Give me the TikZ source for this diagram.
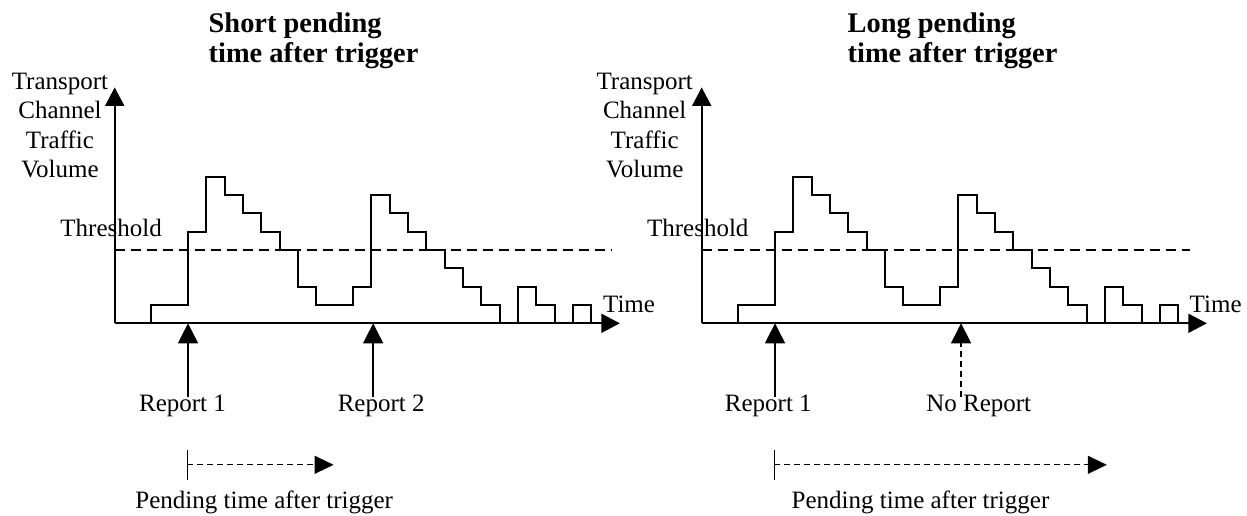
\documentclass[tikz,border=0pt]{standalone}
\usepackage{fontspec}
\setmainfont{Liberation Serif}
\usetikzlibrary{arrows.meta}
\newcommand\trafficcurve{(0,0) -| (2,1) -| (4,5) -| (5,8) -| (6,7) -| (7,6) -| (8,5) -| (9,4) -| (10,2) -| (11,1) -| (13,2) -| (14,7) -| (15,6) -| (16,5) -| (17,4) -| (18,3) -| (19,2) -| (20,1) -| (21,0) -| (22,2) -| (23,1) -| (24,0) -| (25,1) -| (26,0)}
\begin{document}
\begin{tikzpicture}[x=0.5pt,y=-0.5pt,
  lbl/.style={font=\fontsize{12.5}{14.65}\selectfont, inner sep=0pt},
  ttl/.style={font=\fontsize{14.2}{15}\selectfont\bfseries, inner sep=0pt, align=left},
  axis/.style={line width=1pt, -{Triangle[length=9.3pt,width=9.5pt]}},
  curve/.style={line width=1pt, line join=miter},
  thr/.style={line width=0.9pt, dash pattern=on 5pt off 3pt},
  rep/.style={line width=0.7pt, -{Triangle[length=10pt,width=10pt]}},
  norep/.style={rep, dash pattern=on 3pt off 2pt},
  pend/.style={line width=0.6pt, dash pattern=on 3pt off 2pt, -{Triangle[length=9.5pt,width=9pt]}},
  ticky/.style={line width=0.6pt}]
\useasboundingbox (0,0) rectangle (1247,515);

% ---------- left chart ----------
\begin{scope}[shift={(57.35pt,-161.65pt)}, x=9.165pt, y=9.165pt]
  \coordinate (L-o) at (0,0);
  \coordinate (L-ytip) at (0,12.87);
  \coordinate (L-xtip) at (27.56,0);
  \coordinate (L-t0) at (0,4);
  \coordinate (L-t1) at (27.1,4);
  \draw[thr] (L-t0) -- (L-t1);
  \draw[curve] \trafficcurve;
  \draw[axis] (L-o) -- (L-ytip);
  \draw[axis] (L-o) -- (L-xtip);
  \coordinate (L-r1b) at (4,-4);
  \coordinate (L-r1t) at (4,0);
  \coordinate (L-r2b) at (14.1,-4);
  \coordinate (L-r2t) at (14.1,0);
  \draw[rep] (L-r1b) -- (L-r1t);
  \draw[rep] (L-r2b) -- (L-r2t);
  \coordinate (L-pa) at (3.95,-6.9);
  \coordinate (L-pb) at (3.95,-8.54);
  \coordinate (L-ps) at (3.95,-7.72);
  \coordinate (L-pe) at (11.94,-7.72);
  \draw[ticky] (L-pa) -- (L-pb);
  \draw[pend] (L-ps) -- (L-pe);
\end{scope}

% ---------- right chart ----------
\begin{scope}[shift={(350.85pt,-161.65pt)}, x=9.165pt, y=9.165pt]
  \coordinate (R-o) at (0,0);
  \coordinate (R-ytip) at (0,12.87);
  \coordinate (R-xtip) at (27.56,0);
  \coordinate (R-t0) at (0,4);
  \coordinate (R-t1) at (26.64,4);
  \draw[thr] (R-t0) -- (R-t1);
  \draw[curve] \trafficcurve;
  \draw[axis] (R-o) -- (R-ytip);
  \draw[axis] (R-o) -- (R-xtip);
  \coordinate (R-r1b) at (4,-4);
  \coordinate (R-r1t) at (4,0);
  \coordinate (R-r2b) at (14.15,-4);
  \coordinate (R-r2t) at (14.15,0);
  \draw[rep] (R-r1b) -- (R-r1t);
  \draw[norep] (R-r2b) -- (R-r2t);
  \coordinate (R-pa) at (3.97,-6.9);
  \coordinate (R-pb) at (3.97,-8.54);
  \coordinate (R-ps) at (3.97,-7.72);
  \coordinate (R-pe) at (22.1,-7.72);
  \draw[ticky] (R-pa) -- (R-pb);
  \draw[pend] (R-ps) -- (R-pe);
\end{scope}

% ---------- labels ----------
\node[ttl, anchor=base west] (L-title) at (208.3,62.5) {Short pending\\time after trigger};
\node[ttl, anchor=base west] (R-title) at (847.3,62.5) {Long pending\\time after trigger};

\node[lbl, align=center, anchor=base] (L-ylab) at (60,177.3) {Transport\\Channel\\Traffic\\Volume};
\node[lbl, align=center, anchor=base] (R-ylab) at (644.7,177.3) {Transport\\Channel\\Traffic\\Volume};

\node[lbl, anchor=base west] (L-thr) at (60,236.7) {Threshold};
\node[lbl, anchor=base west] (R-thr) at (646.7,236.7) {Threshold};

\node[lbl, anchor=base west] (L-time) at (602.7,312) {Time};
\node[lbl, anchor=base west] (R-time) at (1189.3,312) {Time};

\node[lbl, anchor=base] (L-rep1) at (182.5,411.7) {Report 1};
\node[lbl, anchor=base] (L-rep2) at (381.2,411.7) {Report 2};
\node[lbl, anchor=base] (R-rep1) at (768.3,411.7) {Report 1};
\node[lbl, anchor=base] (R-norep) at (978.7,411.7) {No Report};

\node[lbl, anchor=base] (L-pend) at (264.2,508.3) {Pending time after trigger};
\node[lbl, anchor=base] (R-pend) at (920.5,508.3) {Pending time after trigger};
\end{tikzpicture}
\end{document}
